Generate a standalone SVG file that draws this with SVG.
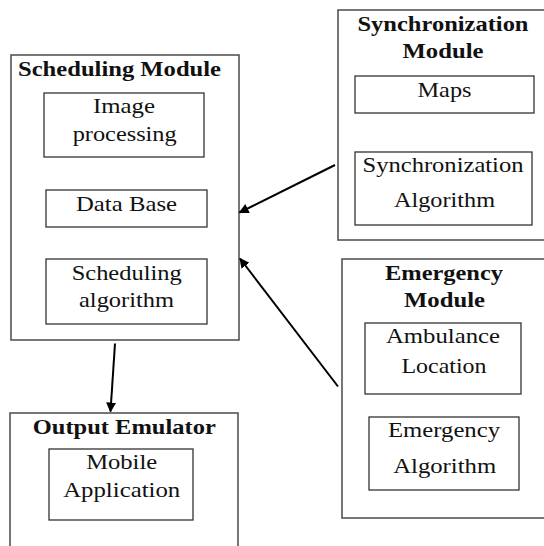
<svg xmlns="http://www.w3.org/2000/svg" width="544" height="546" viewBox="0 0 544 546">
  <defs>
    <marker id="arrow" viewBox="0 0 10 10" refX="9" refY="5" markerWidth="5" markerHeight="5" markerUnits="strokeWidth" orient="auto">
      <path d="M0,0 L10,5 L0,10 z" fill="#000"/>
    </marker>
  </defs>
  <style>
    .module { fill: none; stroke: #555; stroke-width: 1.6; }
    .part { fill: none; stroke: #333; stroke-width: 1.3; }
    .title { font-family: "Liberation Serif", "Times New Roman", serif; font-weight: bold; font-size: 21.5px; fill: #111; text-anchor: middle; }
    .label { font-family: "Liberation Serif", "Times New Roman", serif; font-size: 21.5px; fill: #111; text-anchor: middle; }
    .link { stroke: #000; stroke-width: 2; fill: none; marker-end: url(#arrow); }
  </style>
  <rect width="544" height="546" fill="#fff"/>

  <!-- Scheduling Module -->
  <g id="scheduling-module">
    <rect class="module" x="11" y="55" width="228" height="285"/>
    <text class="title" x="119.5" y="76" textLength="203" lengthAdjust="spacingAndGlyphs">Scheduling Module</text>
    <g id="image-processing">
      <rect class="part" x="44" y="93" width="160" height="64"/>
      <text class="label" x="124" y="113" textLength="62" lengthAdjust="spacingAndGlyphs">Image</text>
      <text class="label" x="124.7" y="141" textLength="104" lengthAdjust="spacingAndGlyphs">processing</text>
    </g>
    <g id="data-base">
      <rect class="part" x="46" y="190" width="161" height="37"/>
      <text class="label" x="126.5" y="211" textLength="101" lengthAdjust="spacingAndGlyphs">Data Base</text>
    </g>
    <g id="scheduling-algorithm">
      <rect class="part" x="46" y="259" width="161" height="65"/>
      <text class="label" x="126.7" y="280" textLength="110" lengthAdjust="spacingAndGlyphs">Scheduling</text>
      <text class="label" x="126.5" y="307" textLength="95" lengthAdjust="spacingAndGlyphs">algorithm</text>
    </g>
  </g>

  <!-- Synchronization Module -->
  <g id="synchronization-module">
    <rect class="module" x="338" y="10" width="220" height="230"/>
    <text class="title" x="443" y="31" textLength="171" lengthAdjust="spacingAndGlyphs">Synchronization</text>
    <text class="title" x="443" y="58" textLength="81" lengthAdjust="spacingAndGlyphs">Module</text>
    <g id="maps">
      <rect class="part" x="355" y="76" width="179" height="37"/>
      <text class="label" x="444.5" y="97" textLength="54" lengthAdjust="spacingAndGlyphs">Maps</text>
    </g>
    <g id="synchronization-algorithm">
      <rect class="part" x="355" y="152" width="177" height="73"/>
      <text class="label" x="443" y="172" textLength="161" lengthAdjust="spacingAndGlyphs">Synchronization</text>
      <text class="label" x="444.5" y="207" textLength="101" lengthAdjust="spacingAndGlyphs">Algorithm</text>
    </g>
  </g>

  <!-- Emergency Module -->
  <g id="emergency-module">
    <rect class="module" x="342" y="259" width="216" height="259"/>
    <text class="title" x="444" y="280" textLength="118" lengthAdjust="spacingAndGlyphs">Emergency</text>
    <text class="title" x="444.5" y="307" textLength="81" lengthAdjust="spacingAndGlyphs">Module</text>
    <g id="ambulance-location">
      <rect class="part" x="365" y="323" width="156" height="71"/>
      <text class="label" x="443" y="343" textLength="114" lengthAdjust="spacingAndGlyphs">Ambulance</text>
      <text class="label" x="444" y="373" textLength="85" lengthAdjust="spacingAndGlyphs">Location</text>
    </g>
    <g id="emergency-algorithm">
      <rect class="part" x="369" y="417" width="150" height="73"/>
      <text class="label" x="444" y="437" textLength="112" lengthAdjust="spacingAndGlyphs">Emergency</text>
      <text class="label" x="444.7" y="473" textLength="103" lengthAdjust="spacingAndGlyphs">Algorithm</text>
    </g>
  </g>

  <!-- Output Emulator -->
  <g id="output-emulator">
    <rect class="module" x="10" y="413" width="228" height="150"/>
    <text class="title" x="124.3" y="434" textLength="183" lengthAdjust="spacingAndGlyphs">Output Emulator</text>
    <g id="mobile-application">
      <rect class="part" x="49" y="449" width="144" height="71"/>
      <text class="label" x="121.7" y="469" textLength="71" lengthAdjust="spacingAndGlyphs">Mobile</text>
      <text class="label" x="121.7" y="497" textLength="117" lengthAdjust="spacingAndGlyphs">Application</text>
    </g>
  </g>

  <!-- Connectors -->
  <g id="connectors">
    <line class="link" x1="335" y1="165" x2="239.5" y2="212.5"/>
    <line class="link" x1="338" y1="386.5" x2="240" y2="258.5"/>
    <line class="link" x1="115" y1="343.5" x2="110.5" y2="411.5"/>
  </g>
</svg>
